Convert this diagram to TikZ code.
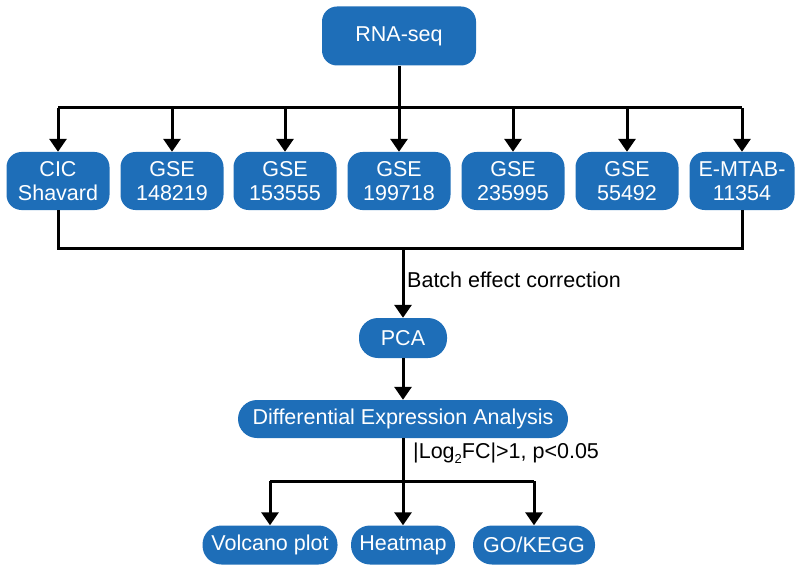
\documentclass[tikz,border=0pt]{standalone}
\usepackage{fontspec}
\setmainfont{Liberation Sans}
\usetikzlibrary{arrows.meta}
\definecolor{boxblue}{RGB}{30,110,184}

\begin{document}
\begin{tikzpicture}[x=1pt,y=-1pt,
  box/.style={fill=boxblue,text=white,rounded corners=15pt,align=center,
    inner sep=0pt,font=\fontsize{21.5}{24}\selectfont},
  pill/.style={box,rounded corners=19pt},
  lbl/.style={anchor=west,inner sep=0pt,font=\fontsize{21.5}{24}\selectfont},
  conn/.style={line width=3pt,black},
  arr/.style={conn,-{Triangle[width=17pt,length=13pt]}}]
\useasboundingbox (0,0) rectangle (799,572);
% source
\node[box,minimum width=154pt,minimum height=59pt] (rna) at (399,36) {RNA-seq};
% datasets
\node[box,minimum width=103pt,minimum height=58pt] (cic) at (58,181) {CIC\\Shavard};
\node[box,minimum width=103pt,minimum height=58pt] (gsea) at (172,181) {GSE\\148219};
\node[box,minimum width=103pt,minimum height=58pt] (gseb) at (285,181) {GSE\\153555};
\node[box,minimum width=103pt,minimum height=58pt] (gsec) at (399,181) {GSE\\199718};
\node[box,minimum width=103pt,minimum height=58pt] (gsed) at (513,181) {GSE\\235995};
\node[box,minimum width=103pt,minimum height=58pt] (gsee) at (627,181) {GSE\\55492};
\node[box,minimum width=105pt,minimum height=58pt] (emtab) at (742,181) {E-MTAB-\\11354};
% analysis
\node[pill,minimum width=88pt,minimum height=40pt] (pca) at (403,338) {PCA};
\node[pill,minimum width=330pt,minimum height=38pt] (dea) at (403,419) {Differential Expression Analysis};
\node[pill,minimum width=135pt,minimum height=39pt] (volcano) at (270,545) {Volcano plot};
\node[pill,minimum width=104pt,minimum height=39pt] (heat) at (403,545) {Heatmap};
\node[pill,minimum width=122pt,minimum height=39pt] (gokegg) at (534,545) {GO/KEGG};
% labels
\node[lbl] (batchlbl) at (407,280) {Batch effect correction};
\node[lbl] (fclbl) at (413,453) {|Log\raisebox{-0.45ex}{\fontsize{13}{13}\selectfont 2}FC|>1, p<0.05};
% connectors
\coordinate (busA) at (399,108);
\coordinate (busB) at (403,248);
\coordinate (split) at (403,481);
\draw[conn] (rna.south) -- (busA);
\draw[conn] (cic.north |- busA) -- (emtab.north |- busA);
\foreach \n in {cic,gsea,gseb,gsec,gsed,gsee,emtab}
  \draw[arr] (\n.north |- busA) -- (\n.north);
\draw[conn] (cic.south) |- (busB) -| (emtab.south);
\draw[arr] (busB) -- (pca.north);
\draw[arr] (pca.south) -- (dea.north);
\draw[arr] (dea.south) -- (heat.north);
\draw[conn] (volcano.north |- split) -- (gokegg.north |- split);
\draw[arr] (volcano.north |- split) -- (volcano.north);
\draw[arr] (gokegg.north |- split) -- (gokegg.north);
\end{tikzpicture}
\end{document}
